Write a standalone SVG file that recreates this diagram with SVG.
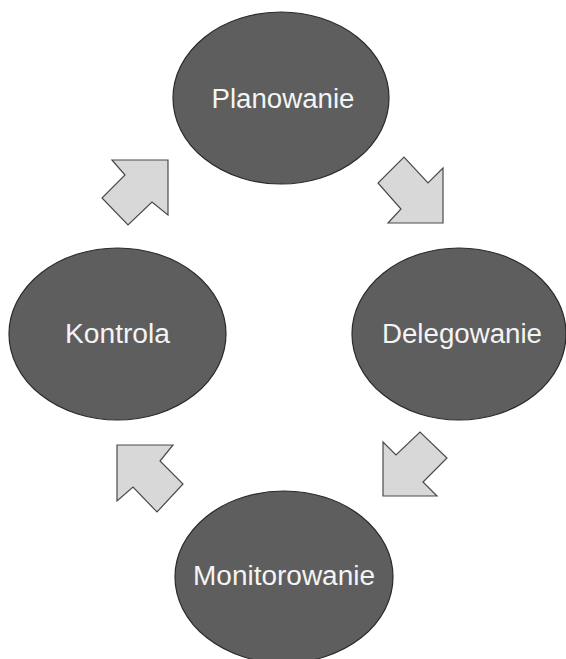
<svg xmlns="http://www.w3.org/2000/svg" width="566" height="659" viewBox="0 0 566 659">
  <style>
    .stage { fill: #5e5e5e; stroke: #2a2a2a; stroke-width: 1.2; }
    .label { fill: #f4f4f4; font-family: "Liberation Sans", Arial, sans-serif; font-size: 27px; text-anchor: middle; }
    .flow { fill: #d8d8d8; stroke: #4a4a4a; stroke-width: 1.2; stroke-linejoin: miter; }
  </style>
  <rect width="566" height="659" fill="#ffffff"/>

  <g id="planowanie">
    <ellipse class="stage" cx="281" cy="98" rx="108" ry="86"/>
    <text class="label" x="283" y="108" textLength="143" lengthAdjust="spacingAndGlyphs">Planowanie</text>
  </g>

  <g id="delegowanie">
    <ellipse class="stage" cx="459" cy="334" rx="107" ry="86"/>
    <text class="label" x="462" y="343" textLength="160" lengthAdjust="spacingAndGlyphs">Delegowanie</text>
  </g>

  <g id="monitorowanie">
    <ellipse class="stage" cx="284" cy="577" rx="109" ry="86"/>
    <text class="label" x="284" y="585" textLength="182" lengthAdjust="spacingAndGlyphs">Monitorowanie</text>
  </g>

  <g id="kontrola">
    <ellipse class="stage" cx="117.5" cy="334" rx="108.5" ry="86"/>
    <text class="label" x="117.5" y="343" textLength="105" lengthAdjust="spacingAndGlyphs">Kontrola</text>
  </g>

  <g id="connectors">
    <!-- Kontrola to Planowanie -->
    <polygon class="flow" points="168,160 112,160 125,175 102,198 128,225 152,202 168,215"/>
    <!-- Planowanie to Delegowanie -->
    <polygon class="flow" points="443,223 443,168 428,183 404,157 378,183 401,209 388,223"/>
    <!-- Delegowanie to Monitorowanie -->
    <polygon class="flow" points="383,496 383,442 396,455 420,432 447,458 423,482 437,496"/>
    <!-- Monitorowanie to Kontrola -->
    <polygon class="flow" points="117,445 173,445 160,461 183,484 157,512 133,487 117,501"/>
  </g>
</svg>
